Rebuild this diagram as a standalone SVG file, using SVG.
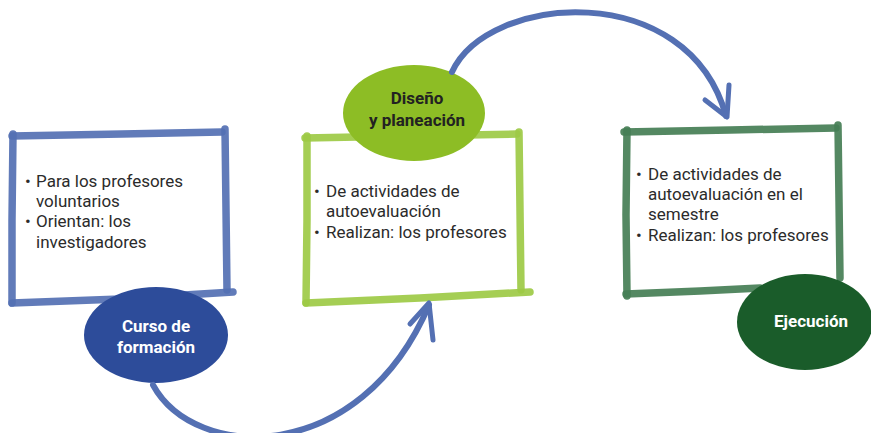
<svg xmlns="http://www.w3.org/2000/svg" width="871" height="433" viewBox="0 0 871 433">
<defs>
<style>
.edge{fill:none;stroke-width:7.5;stroke-linecap:round;stroke-opacity:0.92}
.b1{stroke:#5470B3}
.b2{stroke:#9DCA45}
.b3{stroke:#457E55}
.txt{font-family:Roboto,"Liberation Sans",sans-serif;font-size:17px;fill:#2b2b2b}
.lbl{font-family:Roboto,"Liberation Sans",sans-serif;font-size:17px;font-weight:bold;text-anchor:middle}
.conn{fill:none;stroke:#5470B3;stroke-width:6;stroke-linecap:round;stroke-linejoin:round}
.head{fill:none;stroke:#5470B3;stroke-width:5;stroke-linecap:round;stroke-linejoin:round}
</style>
</defs>
<rect width="871" height="433" fill="#ffffff"/>

<g id="node-curso">
<path class="edge b1" d="M12,136 L122,134 L222,132"/>
<path class="edge b1" d="M225,129 L226,210 L227,290"/>
<path class="edge b1" d="M12,303 L120,299 L233,292"/>
<path class="edge b1" d="M13,134 L12,220 L12,303"/>
<text class="txt"><tspan x="25" y="187">•</tspan><tspan x="36" y="187">Para los profesores</tspan><tspan x="36" y="207">voluntarios</tspan><tspan x="25" y="227">•</tspan><tspan x="36" y="227">Orientan: los</tspan><tspan x="36" y="248">investigadores</tspan></text>
<ellipse cx="156" cy="335" rx="72" ry="48" fill="#2D4C9A"/>
<text class="lbl" fill="#ffffff"><tspan x="156" y="332">Curso de</tspan><tspan x="156" y="353">formación</tspan></text>
</g>

<g id="node-diseno">
<path class="edge b2" d="M305,138 L410,136 L517,134"/>
<path class="edge b2" d="M519,132 L520,210 L521,290"/>
<path class="edge b2" d="M306,303 L420,298 L530,292"/>
<path class="edge b2" d="M307,136 L307,220 L306,303"/>
<text class="txt"><tspan x="314" y="197">•</tspan><tspan x="326" y="197">De actividades de</tspan><tspan x="326" y="217">autoevaluación</tspan><tspan x="314" y="238">•</tspan><tspan x="326" y="238">Realizan: los profesores</tspan></text>
<ellipse cx="414" cy="113" rx="71" ry="48" fill="#8DBD25"/>
<text class="lbl" fill="#222222"><tspan x="417" y="104">Diseño</tspan><tspan x="417" y="126">y planeación</tspan></text>
</g>

<g id="node-ejecucion">
<path class="edge b3" d="M624,132 L730,130 L836,128"/>
<path class="edge b3" d="M838,125 L839,200 L840,278"/>
<path class="edge b3" d="M626,294 L700,291 L760,288"/>
<path class="edge b3" d="M627,130 L626,215 L627,296"/>
<text class="txt"><tspan x="636" y="180">•</tspan><tspan x="648" y="180">De actividades de</tspan><tspan x="648" y="200">autoevaluación en el</tspan><tspan x="648" y="220">semestre</tspan><tspan x="636" y="241">•</tspan><tspan x="648" y="241">Realizan: los profesores</tspan></text>
<ellipse cx="805" cy="322" rx="68" ry="48" fill="#1A5C2A"/>
<text class="lbl" fill="#ffffff"><tspan x="811" y="327">Ejecución</tspan></text>
</g>

<g id="connectors">
<path class="conn" d="M153,385 C195,462 360,467 429,305"/>
<path class="head" d="M410,324 L429,303 L433,340"/>
<path class="conn" d="M452,72 C488,-7 688,-22 726,116"/>
<path class="head" d="M705,100 L727,117 L729,85"/>
</g>
</svg>
